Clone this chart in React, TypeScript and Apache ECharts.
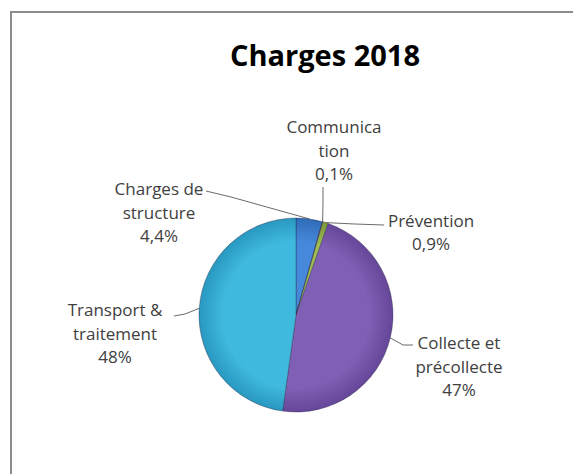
import React, { useEffect, useRef } from "react";
import * as echarts from "echarts";

const titleText = "Charges 2018";
const categories = [
  "Charges de\nstructure",
  "Communica\ntion",
  "Prévention",
  "Collecte et\nprécollecte",
  "Transport &\ntraitement",
];
const values = [4.4, 0.1, 0.9, 47, 48];

// Excel 2007 palette (inner, outer) used as radial shading
const innerColors = ["#4689da", "#d05a57", "#9fbf55", "#8060b4", "#3fbade"];
const outerColors = ["#2f6cb8", "#a8403d", "#7a9838", "#654699", "#2998c0"];

// layout of labels (centre of each label block) and leader line bends
const labelCenters = [
  [159, 212],
  [334, 150],
  [431, 232],
  [459, 366],
  [115, 333],
];
const leaderBends = [
  [[231, 197], [206, 191]],
  [[323, 200], [323, 187]],
  [[355, 224], [384, 225]],
  [[403, 345], [413, 345]],
  [[185, 314], [174, 316]],
];

const CX = 296;
const CY = 315;
const R = 97;

function fmt(v: number): string {
  if (v < 10) return v.toFixed(1).replace(".", ",") + "%";
  return Math.round(v) + "%";
}

export default function App() {
  const ref = useRef<HTMLDivElement>(null);
  useEffect(() => {
    if (!ref.current) return;
    const chart = echarts.init(ref.current, null, { renderer: "svg" });
    const data = categories.map((name, i) => ({
      name,
      value: values[i],
      itemStyle: {
        color: new echarts.graphic.RadialGradient(
          CX,
          CY,
          R,
          [
            { offset: 0, color: innerColors[i] },
            { offset: 0.75, color: innerColors[i] },
            { offset: 1, color: outerColors[i] },
          ],
          true
        ),
      },
    }));
    chart.setOption({
      animation: false,
      backgroundColor: "#ffffff",
      title: {
        text: titleText,
        left: 320,
        top: 35,
        textAlign: "center",
        textStyle: {
          fontFamily: "Open Sans",
          fontWeight: "bold",
          fontSize: 29,
          color: "#000000",
        },
      },
      graphic: [
        {
          type: "rect",
          shape: { x: 11, y: 12, width: 700, height: 600 },
          style: { fill: "none", stroke: "#8c8c8c", lineWidth: 2 },
          z: 0,
        },
      ],
      series: [
        {
          type: "pie",
          center: [CX, CY],
          radius: R,
          startAngle: 90,
          clockwise: true,
          avoidLabelOverlap: false,
          itemStyle: {
            borderColor: "rgba(30,30,60,0.45)",
            borderWidth: 0.8,
          },
          label: {
            show: true,
            position: "outside",
            fontFamily: "Open Sans",
            fontSize: 17,
            lineHeight: 23.5,
            color: "#404040",
            align: "center",
            formatter: (p: any) => p.name + "\n" + fmt(p.value),
          },
          labelLine: {
            show: true,
            smooth: false,
            lineStyle: { color: "#6a6a6a", width: 1 },
          },
          labelLayout: (params: any) => {
            const i = params.dataIndex;
            const pts = params.labelLinePoints;
            const start = pts && pts[0] ? pts[0] : [CX, CY - R];
            return {
              x: labelCenters[i][0],
              y: labelCenters[i][1],
              align: "center",
              verticalAlign: "middle",
              labelLinePoints: [start, leaderBends[i][0], leaderBends[i][1]],
            };
          },
          emphasis: { disabled: true },
          data,
        },
      ],
    });
    return () => chart.dispose();
  }, []);
  return (
    <div
      ref={ref}
      style={{
        position: "absolute",
        left: 0,
        top: 0,
        width: 573,
        height: 474,
        background: "#ffffff",
      }}
    />
  );
}
